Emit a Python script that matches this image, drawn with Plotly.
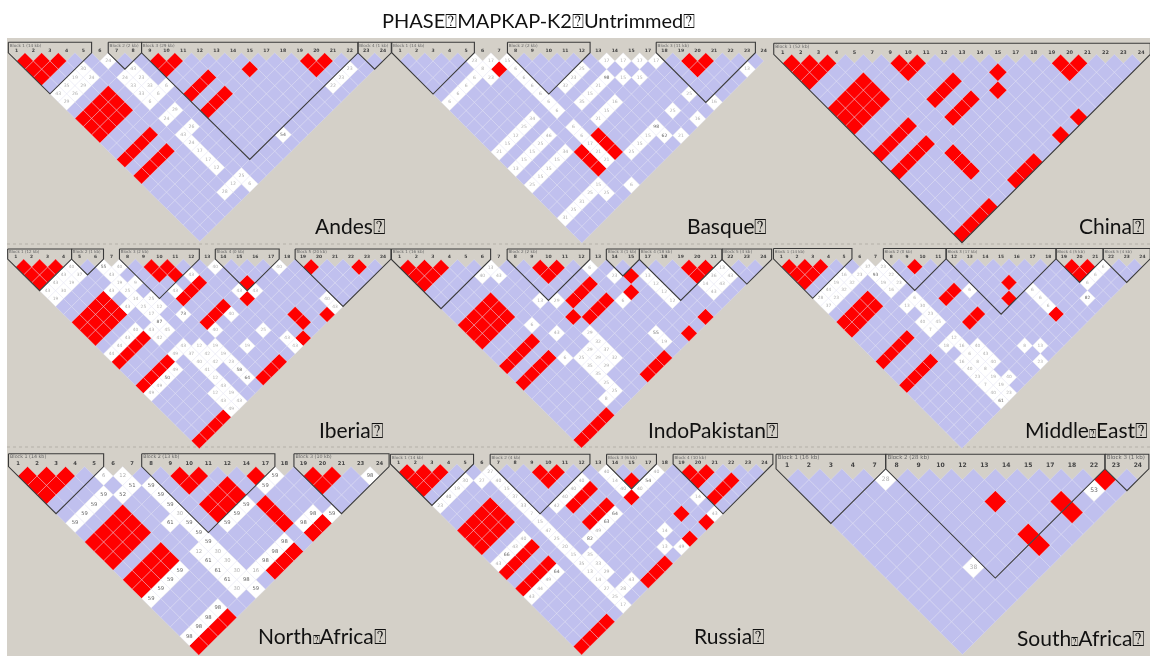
import plotly.graph_objects as go

W, H = 1150, 656
Q = "\u2370"
QS = '<span style="font-size:12px">' + Q + '</span>'

TITLE = f"PHASE{Q}MAPKAP-K2{Q}Untrimmed{Q}"
STD23 = ["1","2","3","4","5","6","7","8","9","10","11","12","13","14","15","17","18","19","20","21","22","23","24"]
STD24 = [str(i) for i in [1,2,3,4,5,6,7,8,9,10,11,12,13,14,15,16,17,18,19,20,21,22,23,24]]

# ---- Andes
LABELS_ANDES = STD23
BLOCKS_ANDES = [(1,5,"Block 1 (14 kb)"),(7,8,"Block 2 (2 kb)"),(9,21,"Block 3 (29 kb)"),(22,23,"Block 4 (1 kb)")]
RED_ANDES = [(1,2),(2,3),(3,4),(1,3),(2,4),(1,4),(9,10),(10,11),(9,11),(14,16),(18,19),(19,20),(18,20),
    (1,9),(2,9),(3,9),(4,9),(1,10),(2,10),(3,10),(4,10),(1,11),(2,11),(3,11),(4,11),
    (1,14),(2,14),(3,14),(4,14),(1,16),(2,16),(3,16),(4,16),(9,14),(10,14),(11,14),(9,16),(10,16),(11,16)]
WHITE_ANDES = [(6,7,"24"),(4,6,"30"),(3,6,"19"),(4,7,"24"),(2,6,"35"),(3,7,"29"),(1,6,"43"),(2,7,"26"),(1,7,"29"),
    (7,9,"43"),(6,9,"24"),(7,10,"23"),(6,10,"33"),(7,11,"33"),(8,12,"6"),(6,11,"33"),(7,12,"6"),(6,12,"6"),
    (7,14,"29"),(6,14,"24"),(7,16,"26"),(6,16,"43"),(6,17,"24"),(6,18,"17"),(6,19,"17"),(6,20,"12"),
    (12,22,"54"),(20,22,"23"),(19,22,"23"),(18,22,"22"),(7,22,"25"),(6,22,"12"),(5,22,"28"),(7,23,"6")]

# ---- Basque
LABELS_BASQUE = STD23
BLOCKS_BASQUE = [(1,5,"Block 1 (14 kb)"),(8,12,"Block 2 (2 kb)"),(17,22,"Block 3 (11 kb)")]
RED_BASQUE = [(6,8),(18,19),(19,20),(18,20),(8,18),(8,19),(8,20),(6,18),(6,19),(6,20)]
WHITE_BASQUE = [(5,6,"23"),(6,7,"17"),(5,7,"8"),(5,8,"23"),(4,7,"6"),(3,7,"6"),(2,7,"6"),(1,7,"6"),
    (7,8,"15"),(7,9,"6"),(7,10,"6"),(7,11,"6"),(7,12,"6"),(7,13,"6"),(7,14,"6"),(9,13,"32"),(10,13,"23"),(11,13,"25"),
    (13,14,"17"),(14,15,"17"),(15,16,"17"),(16,17,"17"),(12,15,"98"),(13,16,"15"),(14,17,"15"),(11,15,"21"),(10,15,"15"),(9,15,"35"),
    (11,17,"16"),(10,17,"15"),(9,17,"21"),(21,23,"13"),(16,21,"25"),(17,23,"16"),(14,21,"25"),(15,23,"16"),(13,23,"21"),
    (12,21,"98"),(12,22,"62"),(11,21,"15"),(10,21,"15"),(9,21,"25"),
    (5,13,"34"),(4,13,"25"),(3,13,"12"),(2,13,"15"),(1,13,"21"),
    (5,15,"46"),(4,15,"25"),(3,15,"15"),(2,15,"15"),(1,15,"13"),
    (5,17,"34"),(4,17,"15"),(3,17,"15"),(2,17,"15"),(1,17,"25"),
    (7,16,"6"),(7,17,"6"),(7,18,"17"),(7,19,"21"),(7,20,"21"),
    (5,21,"15"),(5,22,"25"),(4,21,"25"),(3,21,"31"),(2,21,"25"),(1,21,"31"),(7,23,"6")]

# ---- China
LABELS_CHINA = ["1","2","3","4","5","7","9","10","11","12","13","14","15","17","18","19","20","21","22","23","24"]
BLOCKS_CHINA = [(1,21,"Block 1 (52 kb)")]
RED_CHINA = [(1,2),(2,3),(3,4),(1,3),(2,4),(1,4),(7,8),(8,9),(7,9),(12,14),(11,15),(16,17),(17,18),(16,18),
    (1,7),(2,7),(3,7),(4,7),(1,8),(2,8),(3,8),(4,8),(1,9),(2,9),(3,9),(4,9),
    (1,12),(2,12),(3,12),(4,12),(1,14),(2,14),(3,14),(4,14),(7,12),(8,12),(9,12),(7,14),(8,14),(9,14),
    (5,16),(5,17),(5,18),(14,21),(12,21),(9,21),(8,21),(7,21),(4,21),(3,21),(2,21),(1,21)]
WHITE_CHINA = []

# ---- Iberia
LABELS_IBERIA = STD24
BLOCKS_IBERIA = [(1,4,"Block 1 (12 kb)"),(5,6,"Block 2 (1 kb)"),(8,12,"Block 3 (2 kb)"),(14,17,"Block 4 (0 kb)"),(19,24,"Block 5 (20 kb)")]
RED_IBERIA = [(1,2),(2,3),(3,4),(1,3),(2,4),(1,4),(9,10),(10,11),(9,11),(10,12),(19,20),(22,23),(14,17),(13,18),
    (11,14),(10,14),(9,14),(11,17),(10,17),(9,17),(15,22),(15,23),(17,24),(14,24),
    (1,9),(2,9),(3,9),(4,9),(1,10),(2,10),(3,10),(4,10),(1,11),(2,11),(3,11),(4,11),
    (1,14),(2,14),(3,14),(4,14),(1,17),(2,17),(3,17),(4,17),(11,24),(10,24),(9,24),(4,24),(3,24),(2,24),(1,24)]
WHITE_IBERIA = [(6,7,"55"),(7,8,"40"),(4,5,"40"),(13,14,"40"),(17,18,"40"),(3,5,"43"),(4,6,"37"),(2,5,"43"),(3,6,"19"),(1,5,"43"),(2,6,"30"),(1,6,"19"),
    (6,8,"43"),(6,9,"19"),(7,10,"9"),(5,9,"43"),(6,10,"25"),(6,11,"14"),(7,12,"25"),(5,11,"43"),(6,12,"25"),(7,13,"12"),(6,13,"17"),(6,14,"87"),(5,14,"43"),(6,15,"45"),(5,15,"42"),
    (11,13,"43"),(9,13,"43"),(8,15,"73"),(11,18,"40"),(9,18,"40"),(13,17,"43"),(14,18,"43"),(18,23,"40"),(18,24,"43"),
    (12,21,"25"),(10,21,"19"),(13,23,"43"),(13,24,"43"),(1,13,"44"),(2,13,"44"),(3,13,"43"),(4,13,"40"),(5,17,"49"),(4,18,"49"),(3,18,"50"),(2,18,"49"),(1,18,"49"),
    (6,17,"43"),(6,18,"37"),(7,18,"12"),(8,19,"19"),(7,19,"42"),(8,20,"19"),(6,19,"40"),(7,20,"42"),(8,21,"23"),(6,20,"41"),(8,22,"58"),(8,23,"64"),(6,21,"12"),(6,22,"43"),(5,22,"12"),(6,23,"19"),(5,23,"43"),(6,24,"43"),(5,24,"49")]

# ---- IndoPakistan
LABELS_INDO = STD23
BLOCKS_INDO = [(1,6,"Block 1 (16 kb)"),(8,12,"Block 2 (2 kb)"),(14,15,"Block 3 (1 kb)"),(16,20,"Block 4 (18 kb)"),(21,23,"Block 5 (4 kb)")]
RED_INDO = [(1,2),(2,3),(3,4),(1,3),(2,4),(1,4),(9,10),(10,11),(9,11),(18,19),(19,20),(18,20),(14,16),(13,17),
    (11,14),(10,14),(9,14),(11,16),(10,16),(9,16),(8,15),(16,23),(14,23),
    (1,9),(2,9),(3,9),(4,9),(1,10),(2,10),(3,10),(4,10),(1,11),(2,11),(3,11),(4,11),
    (1,14),(2,14),(3,14),(4,14),(1,16),(2,16),(3,16),(4,16),(11,23),(10,23),(9,23),(4,23),(3,23),(2,23),(1,23)]
WHITE_INDO = [(12,13,"6"),(6,7,"13"),(5,7,"40"),(6,8,"43"),(13,15,"23"),(7,12,"13"),(8,13,"29"),(12,17,"6"),
    (15,17,"13"),(15,18,"12"),(15,19,"12"),(15,20,"12"),(20,21,"13"),(19,21,"36"),(20,22,"43"),(18,21,"14"),(19,22,"43"),(18,22,"43"),
    (5,13,"6"),(6,15,"43"),(5,17,"6"),(12,21,"55"),(12,22,"19"),
    (8,17,"29"),(8,18,"32"),(7,18,"29"),(8,19,"37"),(6,18,"25"),(7,19,"29"),(8,20,"32"),(6,19,"35"),(7,20,"29"),(6,20,"35"),(6,21,"25"),(6,22,"25"),(5,22,"8")]

# ---- Middle East
LABELS_MIDEAST = STD24
BLOCKS_MIDEAST = [(1,5,"Block 1 (14 kb)"),(8,11,"Block 2 (0 kb)"),(12,18,"Block 3 (17 kb)"),(19,21,"Block 4 (5 kb)"),(22,24,"Block 5 (4 kb)")]
RED_MIDEAST = [(1,2),(2,3),(3,4),(1,3),(2,4),(1,4),(9,10),(19,20),(20,21),(19,21),(14,17),(13,18),(10,14),(9,14),(15,22),(10,17),(9,17),
    (1,9),(2,9),(3,9),(4,9),(1,10),(2,10),(3,10),(4,10),(1,14),(2,14),(3,14),(4,14),(1,17),(2,17),(3,17),(4,17)]
WHITE_MIDEAST = [(21,22,"6"),(20,22,"6"),(19,22,"6"),(18,23,"82"),(6,7,"37"),(7,8,"23"),(6,8,"93"),(5,7,"23"),(7,9,"22"),(6,9,"19"),(7,10,"23"),(6,10,"16"),
    (4,6,"16"),(3,6,"19"),(4,7,"32"),(2,6,"44"),(3,7,"32"),(1,6,"28"),(2,7,"23"),(1,7,"37"),(11,15,"6"),
    (7,12,"6"),(6,12,"13"),(7,13,"30"),(7,14,"23"),(6,14,"40"),(7,15,"45"),(6,15,"7"),(15,19,"6"),(15,20,"6"),(15,21,"6"),
    (7,17,"12"),(6,17,"18"),(7,18,"16"),(7,19,"6"),(8,19,"40"),(8,20,"43"),(6,19,"16"),(7,20,"8"),(8,21,"40"),(6,20,"40"),(7,21,"8"),(6,21,"23"),(7,22,"19"),(8,23,"40"),(6,22,"7"),(7,23,"19"),(6,23,"40"),(7,24,"23"),(6,24,"61"),
    (11,22,"8"),(12,23,"13"),(11,24,"23")]

# ---- North Africa
LABELS_NAFRICA = ["1","2","3","4","5","6","7","8","9","10","11","12","14","17","18","19","20","21","23","24"]
BLOCKS_NAFRICA = [(1,5,"Block 1 (14 kb)"),(8,14,"Block 2 (13 kb)"),(16,20,"Block 3 (10 kb)")]
RED_NAFRICA = [(1,2),(2,3),(3,4),(1,3),(2,4),(1,4),(9,10),(10,11),(9,11),(13,14),(16,17),(17,18),(16,18),
    (9,13),(10,13),(11,13),(9,14),(10,14),(11,14),
    (1,9),(2,9),(3,9),(4,9),(1,10),(2,10),(3,10),(4,10),(1,11),(2,11),(3,11),(4,11),
    (1,13),(2,13),(3,13),(4,13),(1,14),(2,14),(3,14),(4,14),
    (12,16),(12,17),(12,18),(14,20),(13,20),(11,20),(10,20),(9,20),(4,20),(3,20),(2,20),(1,20)]
WHITE_NAFRICA = [(5,6,"6"),(6,7,"12"),(6,8,"51"),(4,7,"59"),(5,8,"52"),(3,7,"59"),(2,7,"59"),(1,7,"59"),
    (7,9,"59"),(7,10,"59"),(7,11,"59"),(7,12,"30"),(6,12,"61"),(7,13,"59"),(7,14,"59"),(7,15,"59"),(6,15,"12"),(7,16,"30"),(6,16,"61"),(7,17,"30"),(6,17,"61"),(7,18,"30"),(6,18,"61"),(7,19,"98"),(6,19,"30"),(7,20,"59"),
    (8,19,"16"),(9,19,"98"),(10,19,"98"),(11,19,"98"),(14,15,"59"),(13,15,"59"),(11,15,"59"),(10,15,"59"),(9,15,"59"),
    (19,20,"98"),(14,19,"98"),(15,20,"59"),(13,19,"98"),(4,15,"59"),(3,15,"59"),(2,15,"59"),(1,15,"59"),(4,19,"98"),(3,19,"98"),(2,19,"98"),(1,19,"98")]

# ---- Russia
LABELS_RUSSIA = STD23
BLOCKS_RUSSIA = [(1,5,"Block 1 (14 kb)"),(7,12,"Block 2 (4 kb)"),(14,16,"Block 3 (6 kb)"),(18,23,"Block 4 (10 kb)")]
RED_RUSSIA = [(1,2),(2,3),(3,4),(1,3),(2,4),(1,4),(9,10),(10,11),(9,11),(18,19),(19,20),(18,20),(14,16),(13,17),(20,22),(19,22),(18,22),
    (11,14),(10,14),(9,14),(11,16),(10,16),(9,16),(15,21),(16,23),(14,23),
    (1,9),(2,9),(3,9),(4,9),(1,10),(2,10),(3,10),(4,10),(1,11),(2,11),(3,11),(4,11),
    (1,14),(2,14),(3,14),(4,14),(1,16),(2,16),(3,16),(4,16),(11,23),(10,23),(9,23),(4,23),(3,23),(2,23),(1,23)]
WHITE_RUSSIA = [(6,7,"27"),(5,7,"27"),(4,6,"30"),(3,6,"19"),(2,6,"40"),(1,6,"23"),(6,8,"40"),(6,9,"15"),(6,10,"37"),(6,11,"33"),(6,12,"7"),(6,13,"15"),(6,14,"47"),(6,15,"25"),(6,16,"20"),(6,17,"15"),(6,18,"35"),(6,19,"13"),(6,20,"14"),(6,21,"27"),(6,22,"25"),(6,23,"17"),
    (7,18,"35"),(7,19,"33"),(7,20,"29"),(7,22,"28"),(8,22,"43"),(13,14,"40"),(13,15,"14"),(13,16,"40"),(14,17,"40"),(15,17,"54"),(16,17,"40"),
    (11,13,"40"),(10,13,"40"),(9,13,"40"),(8,13,"42"),(11,17,"64"),(10,17,"63"),(9,17,"49"),(8,17,"82"),(17,21,"14"),(17,23,"43"),(13,21,"14"),(12,22,"13"),(13,23,"49"),
    (4,17,"64"),(3,17,"49"),(2,17,"44"),(1,17,"43"),(4,13,"40"),(3,13,"43"),(2,13,"66"),(1,13,"43")]

# ---- South Africa
LABELS_SAFRICA = ["1","2","3","4","7","8","9","10","12","13","14","15","17","18","22","23","24"]
BLOCKS_SAFRICA = [(1,5,"Block 1 (16 kb)"),(6,15,"Block 2 (28 kb)"),(16,17,"Block 3 (1 kb)")]
RED_SAFRICA = [(15,16),(9,12),(12,15),(12,16),(9,15),(9,16)]
WHITE_SAFRICA = [(5,6,"28"),(14,16,"53"),(5,14,"38")]

PANELS = [
 # labels, blocks, red, white, x of first SNP, x step, y of first row, y step, header top, label y, name right, name y, name
 (LABELS_ANDES, BLOCKS_ANDES, RED_ANDES, WHITE_ANDES, 16.67, 16.65, 61.0, 8.2, 42.3, 50.7, 388, 225, "Andes"),
 (LABELS_BASQUE, BLOCKS_BASQUE, RED_BASQUE, WHITE_BASQUE, 400.0, 16.53, 61.0, 8.27, 42.3, 50.7, 770, 225, "Basque"),
 (LABELS_CHINA, BLOCKS_CHINA, RED_CHINA, WHITE_CHINA, 782.7, 17.93, 63.3, 8.97, 43.3, 53.0, 1147, 225, "China"),
 (LABELS_IBERIA, BLOCKS_IBERIA, RED_IBERIA, WHITE_IBERIA, 15.67, 15.97, 267.0, 7.9, 249.0, 256.7, 386, 429, "Iberia"),
 (LABELS_INDO, BLOCKS_INDO, RED_INDO, WHITE_INDO, 399.7, 16.53, 267.7, 8.2, 249.0, 257.0, 781, 429, "IndoPakistan"),
 (LABELS_MIDEAST, BLOCKS_MIDEAST, RED_MIDEAST, WHITE_MIDEAST, 781.3, 15.7, 266.7, 7.9, 248.5, 256.7, 1150, 429, "Middle"+QS+"East"),
 (LABELS_NAFRICA, BLOCKS_NAFRICA, RED_NAFRICA, WHITE_NAFRICA, 18.0, 19.03, 476.0, 9.43, 453.7, 464.0, 389, 635, "North"+QS+"Africa"),
 (LABELS_RUSSIA, BLOCKS_RUSSIA, RED_RUSSIA, WHITE_RUSSIA, 398.7, 16.63, 472.3, 8.3, 454.3, 463.0, 767, 635, "Russia"),
 (LABELS_SAFRICA, BLOCKS_SAFRICA, RED_SAFRICA, WHITE_SAFRICA, 787.0, 21.93, 479.7, 10.93, 454.3, 465.7, 1147, 637, "South"+QS+"Africa"),
]

BLUE, RED, WHITE_C, GRID = "#c0c0ee", "#ff0000", "#ffffff", "rgba(226,226,244,0.55)"
GRAY = "#d4d0c8"


def polys(cells):
    xs, ys = [], []
    for a, b in cells:
        u, r = (a + b) / 2, b - a
        xs += [u - .5, u, u + .5, u, u - .5, None]
        ys += [r, r - 1, r, r + 1, r, None]
    return xs, ys


fig = go.Figure()
layout = {}
annotations = []
for idx, (labels, blocks, red, white, x0, dx, y0, dy, top_px, lab_px, nr, ny, name) in enumerate(PANELS, start=1):
    n = len(labels)
    L, R = max(0, x0 - 0.7 * dx), min(W, x0 + (n - 1 + 0.7) * dx)
    T, B = top_px - 3, min(H, y0 + (n - 1) * dy + 1)
    to_u = lambda p: 1 + (p - x0) / dx
    to_r = lambda p: 1 + (p - y0) / dy
    xa, ya = ("x" if idx == 1 else f"x{idx}"), ("y" if idx == 1 else f"y{idx}")
    sfx = "" if idx == 1 else str(idx)
    layout[f"xaxis{sfx}"] = dict(domain=[L / W, R / W], range=[to_u(L), to_u(R)], visible=False, anchor=ya, fixedrange=True)
    layout[f"yaxis{sfx}"] = dict(domain=[1 - B / H, 1 - T / H], range=[to_r(B), to_r(T)], visible=False, anchor=xa, fixedrange=True)
    scale = dx / 16.65
    taken = set(red) | {(a, b) for a, b, _ in white}
    blue = [(a, b) for a in range(1, n) for b in range(a + 1, n + 1) if (a, b) not in taken]
    for cells, col in ((blue, BLUE), (red, RED), ([(a, b) for a, b, _ in white], WHITE_C)):
        if not cells:
            continue
        xs, ys = polys(cells)
        fig.add_trace(go.Scatter(x=xs, y=ys, xaxis=xa, yaxis=ya, mode="lines", fill="toself", fillcolor=col,
                                 line=dict(color=GRID, width=0.6), hoverinfo="skip", showlegend=False))
    if white:
        fig.add_trace(go.Scatter(x=[(a + b) / 2 for a, b, _ in white], y=[b - a for a, b, _ in white],
                                 text=[v for _, _, v in white], xaxis=xa, yaxis=ya, mode="text",
                                 textfont=dict(family="DejaVu Sans", size=max(4, 4.6 * scale),
                                               color=["#666666" if int(v) >= 50 else "#b0b0b0" for _, _, v in white]),
                                 hoverinfo="skip", showlegend=False))
    bx, by = [], []
    top = to_r(top_px)
    for a, b, _ in blocks:
        u, rr = (a + b) / 2, b - a
        bx += [a - .5, a - .5, u, b + .5, b + .5, a - .5, None]
        by += [top, 0, rr + 1, 0, top, top, None]
    fig.add_trace(go.Scatter(x=bx, y=by, xaxis=xa, yaxis=ya, mode="lines", line=dict(color="#3a3a3a", width=1.1),
                             hoverinfo="skip", showlegend=False, cliponaxis=False))
    fig.add_trace(go.Scatter(x=list(range(1, n + 1)), y=[to_r(lab_px)] * n, text=labels, xaxis=xa, yaxis=ya, mode="text",
                             textfont=dict(family="DejaVu Sans", size=4.6 * scale, color="#444444", weight="bold"),
                             hoverinfo="skip", showlegend=False, cliponaxis=False))
    fig.add_trace(go.Scatter(x=[a - .42 for a, _, _ in blocks], y=[to_r(top_px + 3.2)] * len(blocks),
                             text=[t for _, _, t in blocks], xaxis=xa, yaxis=ya, mode="text", textposition="middle right",
                             textfont=dict(family="DejaVu Sans", size=4.2 * scale, color="#666666"),
                             hoverinfo="skip", showlegend=False, cliponaxis=False))
    annotations.append(dict(xref="paper", yref="paper", x=nr / W, y=1 - ny / H, text=name + Q, showarrow=False,
                            xanchor="right", yanchor="middle", font=dict(family="Lato", size=21, color="#111111")))

annotations.append(dict(xref="paper", yref="paper", x=380 / W, y=1 - 20 / H, text=TITLE, showarrow=False,
                        xanchor="left", yanchor="middle", font=dict(family="Lato", size=20, color="#111111")))

shapes = [dict(type="rect", xref="paper", yref="paper", x0=7 / W, x1=1, y0=0, y1=1 - 38 / H, fillcolor=GRAY, line_width=0, layer="below")]
for py in (244, 447):
    shapes.append(dict(type="line", xref="paper", yref="paper", x0=7 / W, x1=1, y0=1 - py / H, y1=1 - py / H,
                       line=dict(color="#b4b0a8", width=1, dash="dot"), layer="below"))

fig.update_layout(width=W, height=H, margin=dict(l=0, r=0, t=0, b=0), paper_bgcolor="white", plot_bgcolor="rgba(0,0,0,0)",
                  showlegend=False, annotations=annotations, shapes=shapes, **layout)
fig.write_html("out.html", config=dict(displayModeBar=False),
               post_script="document.body.style.margin='0';document.querySelectorAll('.cartesianlayer').forEach(function(e){e.style.filter='blur(0.45px)';});")
